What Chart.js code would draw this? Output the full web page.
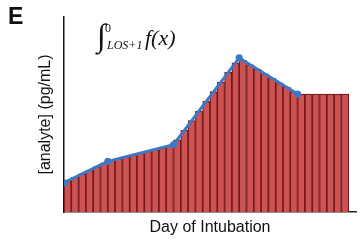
<!DOCTYPE html>
<html>
<head>
<meta charset="utf-8">
<script src="https://cdn.jsdelivr.net/npm/chart.js@4.4.1/dist/chart.umd.min.js"></script>
<style>
  html, body { margin: 0; padding: 0; background: #fff; }
  #wrap { position: relative; width: 360px; height: 242px; overflow: hidden; }
  #wrap canvas { position: absolute; left: 0; top: 0; }
  .lbl { position: absolute; color: #111; white-space: nowrap; line-height: 1; }
  .panel { left: 8px; top: 3px; font: bold 23px "Liberation Sans", Arial, sans-serif; }
  .fx { font-family: "Liberation Serif", "DejaVu Serif", serif; font-style: italic; }
  .intg { left: 97px; top: 19px; font-size: 32px; font-style: normal; }
  .sup { left: 105px; top: 22px; font-size: 12px; font-style: normal; }
  .sub { left: 107px; top: 39px; font-size: 12px; }
  .fn  { left: 145px; top: 27px; font-size: 22px; }
</style>
</head>
<body>
<div id="wrap">
  <canvas id="c" width="360" height="242"></canvas>
  <div class="lbl panel">E</div>
  <div class="lbl fx intg">∫</div>
  <div class="lbl fx sup">0</div>
  <div class="lbl fx sub">LOS+1</div>
  <div class="lbl fx fn">f(x)</div>
</div>
<script>
/* ── data ─────────────────────────────────────────────── */
const days = ['1','2','3','4','5','6','7','8','9','10','11','12','13','14','15','16','17','18','19','20',
              '21','22','23','24','25','26','27','28','29','30','31','32','33','34','35','36','37','38','39','40'];

// daily bar heights (arbitrary units)
const barValues = [
  1.59, 1.78, 1.96, 2.14, 2.33, 2.51,
  2.65, 2.74, 2.84, 2.93, 3.02, 3.12, 3.21, 3.31, 3.40,
  3.70, 4.19, 4.69, 5.18, 5.67, 6.17, 6.66, 7.16, 7.65,
  7.78, 7.55, 7.32, 7.09, 6.86, 6.63, 6.40, 6.17,
  6.05, 6.05, 6.05, 6.05, 6.05, 6.05, 6.05,
  null
];

// measured samples joined by the blue line
const sampleDays   = [0, 6, 15, 24, 32];
const sampleValues = [1.50, 2.60, 3.45, 7.90, 6.05];

const yMax = 10;

/* ── chart ────────────────────────────────────────────── */
const FONT = '"Liberation Sans", Arial, sans-serif';

new Chart(document.getElementById('c'), {
  type: 'bar',
  data: {
    labels: days,
    datasets: [
      {
        type: 'line',
        xAxisID: 'x2',
        order: 0,
        data: sampleDays.map((d, i) => ({ x: d, y: sampleValues[i] })),
        borderColor: '#3d78c4',
        backgroundColor: '#3d78c4',
        borderWidth: 3,
        pointRadius: 3.6,
        pointBorderWidth: 0,
        tension: 0,
      },
      {
        type: 'bar',
        xAxisID: 'x',
        order: 1,
        data: barValues,
        backgroundColor: '#cd5252',
        borderColor: '#741a1e',
        borderWidth: 1.2,
        borderSkipped: 'bottom',
        grouped: false,
        categoryPercentage: 1,
        barPercentage: 1,
      },
    ],
  },
  options: {
    responsive: false,
    animation: false,
    layout: { padding: { top: 17, right: 2, left: 0, bottom: 0 } },
    plugins: { legend: { display: false }, tooltip: { enabled: false } },
    scales: {
      x: {
        type: 'category',
        offset: true,
        grid: { display: false, drawTicks: false, offset: true },
        border: { display: true, color: '#222', width: 1.5 },
        ticks: { display: false },
        title: {
          display: true,
          text: 'Day of Intubation',
          color: '#111',
          font: { family: FONT, size: 16 },
          padding: { top: 0, bottom: 5 },
        },
        afterFit: s => { s.height = 30; },
      },
      x2: {
        type: 'linear',
        display: false,
        offset: false,
        min: 0,
        max: days.length,
      },
      y: {
        min: 0,
        max: yMax,
        grid: { display: false, drawTicks: false },
        border: { display: true, color: '#111', width: 1.5 },
        ticks: { display: false },
        title: {
          display: true,
          text: '[analyte] (pg/mL)',
          color: '#111',
          font: { family: FONT, size: 16 },
          padding: { top: 36, bottom: 0 },
        },
        afterFit: s => { s.width = 64; },
      },
    },
  },
});
</script>
</body>
</html>
